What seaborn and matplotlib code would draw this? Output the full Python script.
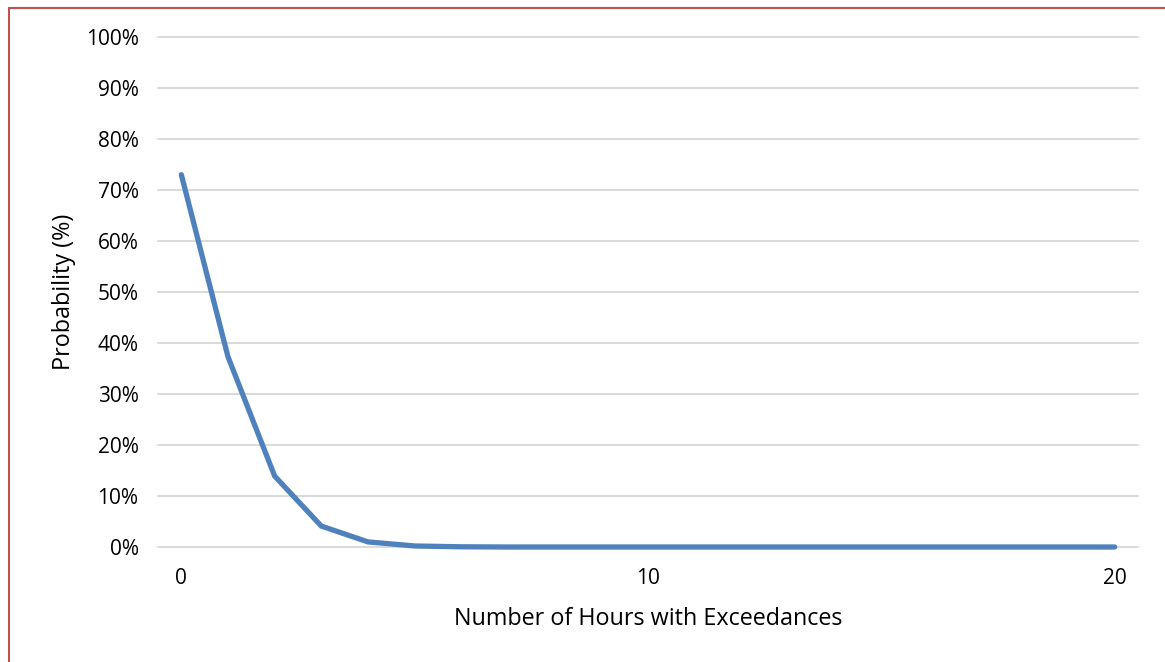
import matplotlib
matplotlib.use("Agg")
import matplotlib.pyplot as plt
import seaborn as sns
import pandas as pd
from matplotlib.lines import Line2D
from matplotlib.ticker import FuncFormatter, MultipleLocator

hours = list(range(0, 21))
probability = [0.73, 0.373, 0.139, 0.041, 0.010, 0.002, 0.0004] + [0.0] * 14
x_ticks = [0, 10, 20]

sns.set_theme(style="white")
plt.rcParams['font.family'] = ['Open Sans', 'DejaVu Sans']

df = pd.DataFrame({"hours": hours, "probability": probability})

fig = plt.figure(figsize=(11.65, 6.62), dpi=100)
ax = fig.add_axes([158 / 1165, (662 - 547) / 662, (1138 - 158) / 1165, (547 - 37) / 662])

sns.lineplot(data=df, x="hours", y="probability", ax=ax, color="#4F81BD",
             linewidth=3.8, solid_capstyle="round", solid_joinstyle="miter", zorder=3)

ax.set_xlim(-0.5, 20.5)
ax.set_ylim(0, 1.0)
ax.yaxis.set_major_locator(MultipleLocator(0.1))
ax.yaxis.set_major_formatter(FuncFormatter(lambda v, p: f"{v*100:.0f}%"))
ax.set_xticks(x_ticks)
ax.grid(axis="y", color="#D9D9D9", linewidth=1.4)
ax.set_axisbelow(True)
for s in ax.spines.values():
    s.set_visible(False)
for l in ax.lines:
    l.set_clip_on(False)
for g in ax.get_ygridlines():
    g.set_clip_on(False)

ax.tick_params(axis="both", length=0, labelsize=15, colors="#000000")
ax.tick_params(axis="y", pad=14)
ax.tick_params(axis="x", pad=15)
ax.set_xlabel("Number of Hours with Exceedances", fontsize=16.8, color="#000000", labelpad=13)
ax.set_ylabel("Probability (%)", fontsize=16.8, color="#000000", labelpad=7)

# chart border (red)
fig.add_artist(Line2D([8.5 / 1165, 1.0], [1 - 7.5 / 662, 1 - 7.5 / 662], color="#C0504D", linewidth=1.5, transform=fig.transFigure))
fig.add_artist(Line2D([8.5 / 1165, 8.5 / 1165], [0, 1 - 7.5 / 662], color="#C0504D", linewidth=1.5, transform=fig.transFigure))

fig.savefig("out.png", dpi=100, facecolor="white")
